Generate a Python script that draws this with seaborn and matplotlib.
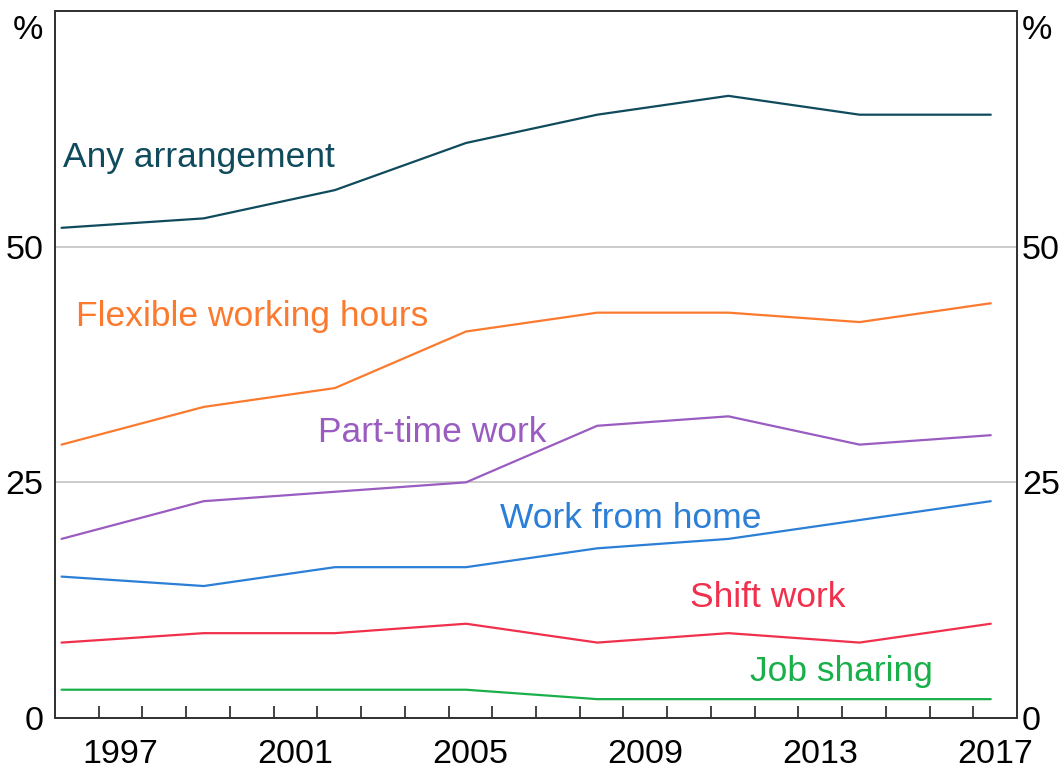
import matplotlib
matplotlib.use('Agg')
import matplotlib.pyplot as plt
import seaborn as sns
import pandas as pd
from matplotlib.ticker import FixedLocator, FixedFormatter, NullFormatter

# ---- data ----
years = [1996.15, 1999.4, 2002.4, 2005.4, 2008.4, 2011.4, 2014.4, 2017.4]
any_arrangement = [52, 53, 56, 61, 64, 66, 64, 64]
flexible_hours = [29, 33, 35, 41, 43, 43, 42, 44]
part_time = [19, 23, 24, 25, 31, 32, 29, 30]
work_from_home = [15, 14, 16, 16, 18, 19, 21, 23]
shift_work = [8, 9, 9, 10, 8, 9, 8, 10]
job_sharing = [3, 3, 3, 3, 2, 2, 2, 2]

series_names = ['Any arrangement', 'Flexible working hours', 'Part-time work',
                'Work from home', 'Shift work', 'Job sharing']
series_values = [any_arrangement, flexible_hours, part_time,
                 work_from_home, shift_work, job_sharing]
series_colors = ['#0f4b5c', '#fb7a2e', '#9a5cc0', '#2b7fd6', '#f0304c', '#19b04a']

label_x = [1996.18, 1996.47, 2002.01, 2006.18, 2010.53, 2011.90]
label_y = [58.4, 41.6, 29.3, 20.2, 11.8, 3.9]

year_labels = ['1997', '2001', '2005', '2009', '2013', '2017']
y_ticks = [0, 25, 50, 75]
y_tick_labels = ['0', '25', '50', '']

# ---- build table ----
rows = []
for name, vals in zip(series_names, series_values):
    for x, v in zip(years, vals):
        rows.append({'year': x, 'value': v, 'series': name})
df = pd.DataFrame(rows)

sns.set_theme(style='white')
plt.rcParams['font.family'] = ['Liberation Sans', 'DejaVu Sans']

fig = plt.figure(figsize=(10.61, 7.69), dpi=100)
ax = fig.add_axes([55 / 1061, 51 / 769, 962 / 1061, 707 / 769])

sns.lineplot(data=df, x='year', y='value', hue='series',
             palette=dict(zip(series_names, series_colors)),
             hue_order=series_names, linewidth=1.6, legend=False,
             errorbar=None, ax=ax)

ax.set_xlim(1996, 2018)
ax.set_ylim(0, 75)
ax.set_xlabel('')
ax.set_ylabel('')

# x ticks: marks at each year, labels centred mid-year
ax.xaxis.set_major_locator(FixedLocator(list(range(1997, 2018))))
ax.xaxis.set_major_formatter(NullFormatter())
ax.xaxis.set_minor_locator(FixedLocator([int(y) + 0.5 for y in year_labels]))
ax.xaxis.set_minor_formatter(FixedFormatter(year_labels))
ax.tick_params(axis='x', which='major', direction='in', length=8.6, width=1.1,
               color='#111111', bottom=True, top=False)
ax.tick_params(axis='x', which='minor', length=0, pad=15, labelsize=24.5,
               labelcolor='black')

# y axis
ax.set_yticks(y_ticks)
ax.set_yticklabels(y_tick_labels)
ax.tick_params(axis='y', length=0, pad=8.5, labelsize=24.5, labelcolor='black')
ax.yaxis.grid(True, color='#c2c2c2', linewidth=1.2)
ax.xaxis.grid(False)

ax2 = ax.twinx()
ax2.set_ylim(0, 75)
ax2.set_yticks(y_ticks)
ax2.set_yticklabels(y_tick_labels)
ax2.tick_params(axis='y', length=0, pad=3.5, labelsize=24.5, labelcolor='black')
ax2.grid(False)

for a in (ax, ax2):
    for s in a.spines.values():
        s.set_color('#333333')
        s.set_linewidth(1.3)

# % unit markers
ax.annotate('%', xy=(0, 0.975), xycoords='axes fraction', xytext=(-12, -2),
            textcoords='offset pixels', ha='right', va='center', fontsize=24.5,
            color='black')
ax.annotate('%', xy=(1, 0.975), xycoords='axes fraction', xytext=(5, -2),
            textcoords='offset pixels', ha='left', va='center', fontsize=24.5,
            color='black')

# series labels
for name, c, lx, ly in zip(series_names, series_colors, label_x, label_y):
    ax.text(lx, ly, name, color=c, fontsize=25.5, ha='left', va='baseline')

fig.savefig('out.png', dpi=100)
